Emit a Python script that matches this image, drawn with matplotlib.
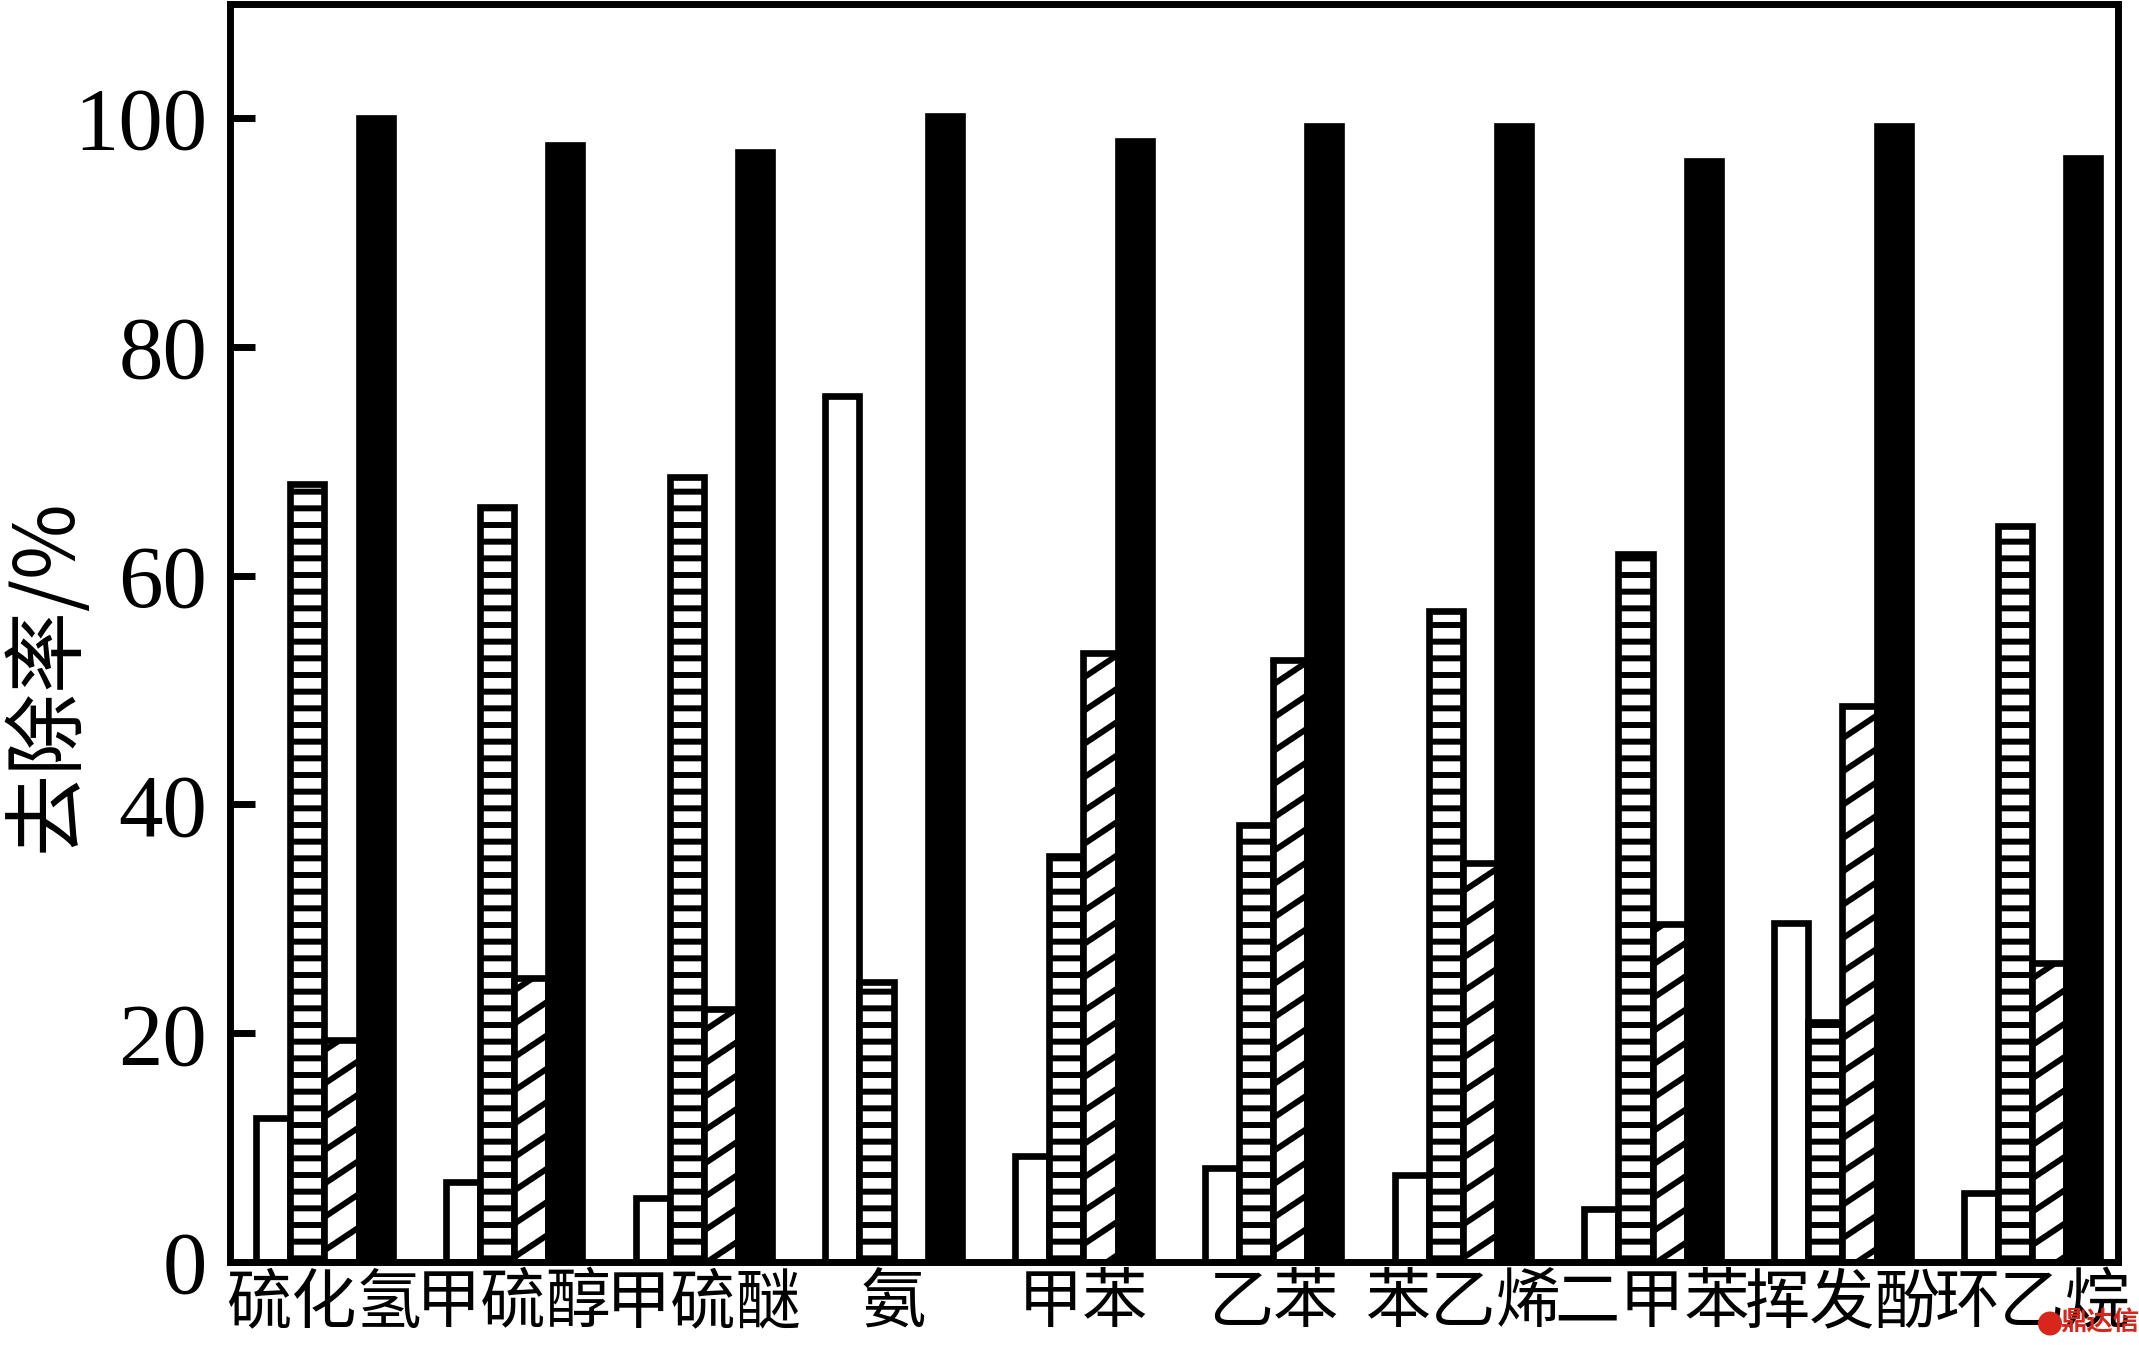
import numpy as np
import matplotlib
matplotlib.use("Agg")
import matplotlib.pyplot as plt
import matplotlib.hatch as mhatch
from matplotlib.path import Path
from matplotlib.patches import Circle

# ---------------- data ----------------
categories = ["硫化氢", "甲硫醇", "甲硫醚", "氨", "甲苯", "乙苯", "苯乙烯", "二甲苯", "挥发酚", "环乙烷"]
series_1 = [12.6, 7.0, 5.6, 75.7, 9.3, 8.2, 7.6, 4.6, 29.6, 6.0]        # white bars
series_2 = [68.0, 66.0, 68.6, 24.5, 35.5, 38.2, 56.9, 61.9, 21.0, 64.3]  # horizontal hatch
series_3 = [19.4, 24.8, 22.1, 0.0, 53.2, 52.6, 34.9, 29.5, 48.6, 26.1]   # diagonal hatch
series_4 = [100.0, 97.6, 97.0, 100.2, 98.0, 99.3, 99.3, 96.2, 99.3, 96.5]  # black bars
y_ticks = [0, 20, 40, 60, 80, 100]
y_label = "去除率/%"
watermark = "鼎达信"


# shallow diagonal hatch (slope 2/3, 3 lines per unit) replacing the 45° one
class ShallowNorthEastHatch(mhatch.HatchPatternBase):
    def __init__(self, hatch, density):
        n = hatch.count('/')
        self.offsets = np.arange(-2, 4) / 3.0 if n else np.array([])
        self.num_vertices = len(self.offsets) * 2

    def set_vertices_and_codes(self, vertices, codes):
        c = self.offsets
        vertices[0::2, 0] = 0.0
        vertices[0::2, 1] = c
        vertices[1::2, 0] = 1.0
        vertices[1::2, 1] = c + 2.0 / 3.0
        codes[0::2] = Path.MOVETO
        codes[1::2] = Path.LINETO


mhatch._hatch_types = [ShallowNorthEastHatch if t is mhatch.NorthEastHatch else t
                       for t in mhatch._hatch_types]

plt.rcParams['hatch.linewidth'] = 4.3
plt.rcParams['hatch.color'] = 'black'

CJK = ['Noto Sans CJK SC', 'DejaVu Sans']

W, H = 2139, 1345
fig = plt.figure(figsize=(W / 100, H / 100), dpi=100)
ax = fig.add_axes([229.5 / W, (H - 1262) / H, (2117.5 - 229.5) / W, (1262 - 3.5) / H])

x = np.arange(len(categories))
bw = 0.18
lw = 4.8
styles = [
    dict(facecolor='white', hatch=None),
    dict(facecolor='white', hatch='-'),
    dict(facecolor='white', hatch='/'),
    dict(facecolor='black', hatch=None),
]
for k, (vals, st) in enumerate(zip([series_1, series_2, series_3, series_4], styles)):
    ax.bar(x + (k - 1.5) * bw, vals, width=bw, facecolor=st['facecolor'],
           edgecolor='black', linewidth=lw, hatch=st['hatch'], zorder=2)

ax.set_xlim(-0.5, 9.45)
ax.set_ylim(0, 110)

for sp in ax.spines.values():
    sp.set_linewidth(5)
    sp.set_color('black')

ax.set_yticks(y_ticks)
ax.set_yticklabels([str(t) for t in y_ticks], fontfamily='Liberation Serif', fontsize=64)
ax.tick_params(axis='y', direction='in', length=18, width=5, pad=16, right=False)
ax.set_xticks(x)
ax.set_xticklabels(categories, fontfamily=CJK, fontsize=47)
ax.tick_params(axis='x', length=0, pad=6)

ax.set_ylabel(y_label, fontfamily=CJK, fontsize=59)
ax.yaxis.set_label_coords(-0.074, 0.466)

# watermark (red logo + text) at the bottom right
fig.add_artist(Circle((20.50, 0.215), 0.12, transform=fig.dpi_scale_trans,
                      facecolor='#d9261c', edgecolor='none', zorder=5))
fig.text(2100 / W, 22 / H, watermark, color='#d9261c', fontsize=19, fontweight='bold',
         ha='center', va='center', family=CJK, zorder=5)

fig.savefig('out.png', dpi=100)
